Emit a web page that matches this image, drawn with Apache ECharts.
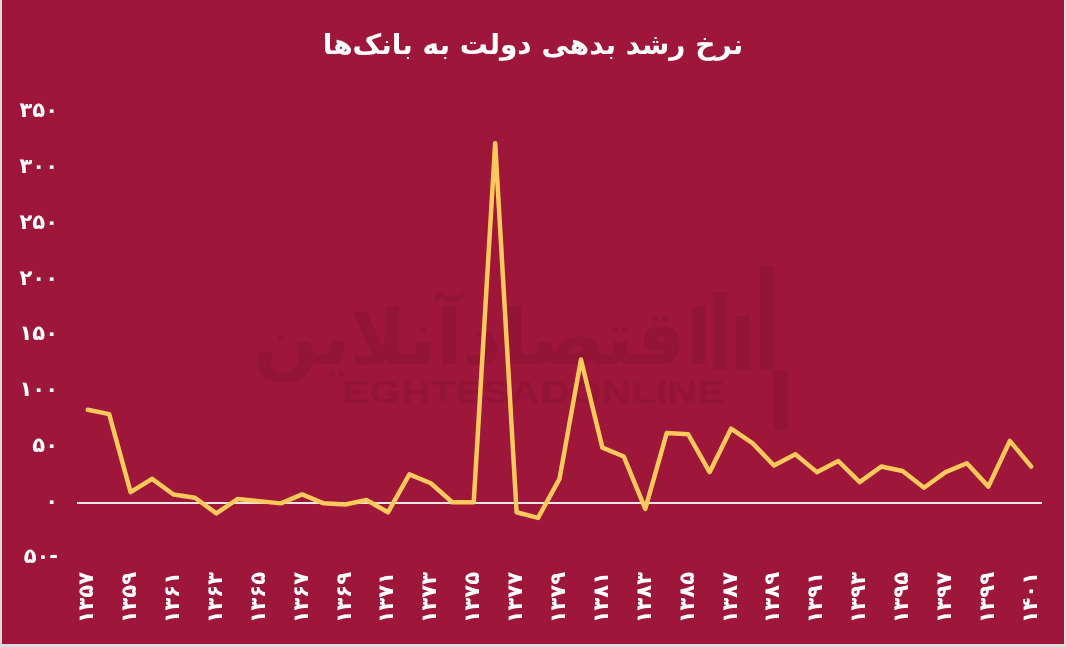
<!DOCTYPE html>
<html>
<head>
<meta charset="utf-8">
<script src="https://cdn.jsdelivr.net/npm/echarts@6/dist/echarts.min.js"></script>
<style>
  html, body { margin: 0; padding: 0; background: #dcdcdc; }
  #wrap { position: relative; width: 1066px; height: 647px; background: #dcdcdc; overflow: hidden; }
  #chart { position: absolute; left: 2px; top: 0; width: 1062px; height: 644px; background: #9e1639; }
</style>
</head>
<body>
<div id="wrap"><div id="chart"></div></div>
<script>
const titleText = 'نرخ رشد بدهی دولت به بانک‌ها';
const years = ['۱۳۵۷','۱۳۵۸','۱۳۵۹','۱۳۶۰','۱۳۶۱','۱۳۶۲','۱۳۶۳','۱۳۶۴','۱۳۶۵','۱۳۶۶',
  '۱۳۶۷','۱۳۶۸','۱۳۶۹','۱۳۷۰','۱۳۷۱','۱۳۷۲','۱۳۷۳','۱۳۷۴','۱۳۷۵','۱۳۷۶',
  '۱۳۷۷','۱۳۷۸','۱۳۷۹','۱۳۸۰','۱۳۸۱','۱۳۸۲','۱۳۸۳','۱۳۸۴','۱۳۸۵','۱۳۸۶',
  '۱۳۸۷','۱۳۸۸','۱۳۸۹','۱۳۹۰','۱۳۹۱','۱۳۹۲','۱۳۹۳','۱۳۹۴','۱۳۹۵','۱۳۹۶',
  '۱۳۹۷','۱۳۹۸','۱۳۹۹','۱۴۰۰','۱۴۰۱'];
const growth = [83, 79, 9, 21, 7, 4, -10, 3, 1, -1,
  7, -1, -2, 2, -9, 25, 17, 0, 0, 322,
  -9, -14, 21, 128, 49, 41, -6, 62, 61, 27,
  66, 53, 33, 43, 27, 37, 18, 32, 28, 13,
  27, 35, 14, 55, 32];
const yTicks = {'-50':'۵۰-','0':'۰','50':'۵۰','100':'۱۰۰','150':'۱۵۰','200':'۲۰۰','250':'۲۵۰','300':'۳۰۰','350':'۳۵۰'};

const FONT = '"DejaVu Sans", "Noto Sans", sans-serif';
const chart = echarts.init(document.getElementById('chart'), null, {renderer: 'canvas'});
const wm = '#931435';
chart.setOption({
  backgroundColor: '#9e1639',
  animation: false,
  title: {
    text: titleText,
    left: 'center',
    top: 28,
    textStyle: { color: '#ffffff', fontSize: 28, fontWeight: 'bold', fontFamily: FONT }
  },
  graphic: [
    { type: 'text', z: -10, x: 251, y: 306,
      style: { text: 'اقتصادآنلاین', fill: wm, font: 'bold 76px ' + FONT, align: 'left', verticalAlign: 'top' } },
    { type: 'text', z: -10, x: 340, y: 378, scaleX: 1.28,
      style: { text: 'EGHTESADONLINE', fill: wm, font: 'bold 32px "Liberation Sans", Arial, sans-serif', align: 'left', verticalAlign: 'top' } },
    { type: 'rect', z: -10, shape: { x: 711, y: 292, width: 14, height: 78 }, style: { fill: wm } },
    { type: 'rect', z: -10, shape: { x: 734, y: 316, width: 14, height: 54 }, style: { fill: wm } },
    { type: 'rect', z: -10, shape: { x: 758, y: 266, width: 14, height: 104 }, style: { fill: wm } },
    { type: 'rect', z: -10, shape: { x: 771, y: 370, width: 15, height: 60 }, style: { fill: wm } }
  ],
  grid: { left: 75, right: 22, top: 112, bottom: 86, containLabel: false },
  xAxis: {
    type: 'category',
    data: years,
    boundaryGap: true,
    axisLine: { show: false },
    axisTick: { show: false },
    axisLabel: {
      interval: 1, rotate: 90, margin: 14,
      color: '#ffffff', fontSize: 21, fontWeight: 'bold', fontFamily: FONT
    },
    splitLine: { show: false }
  },
  yAxis: {
    type: 'value',
    min: -50, max: 350, interval: 50,
    axisLine: { show: false },
    axisTick: { show: false },
    splitLine: { show: false },
    axisLabel: {
      margin: 19,
      color: '#ffffff', fontSize: 21, fontWeight: 'bold', fontFamily: FONT,
      formatter: v => yTicks[String(v)] || ''
    }
  },
  series: [{
    type: 'line',
    data: growth,
    symbol: 'none',
    lineStyle: { color: '#ffc95b', width: 4.5, join: 'round', cap: 'round' },
    z: 5,
    markLine: {
      silent: true,
      symbol: ['none', 'none'],
      label: { show: false },
      lineStyle: { color: '#e6e6e6', width: 2, type: 'solid' },
      z: 3,
      data: [{ yAxis: 0 }]
    }
  }]
});
</script>
</body>
</html>
